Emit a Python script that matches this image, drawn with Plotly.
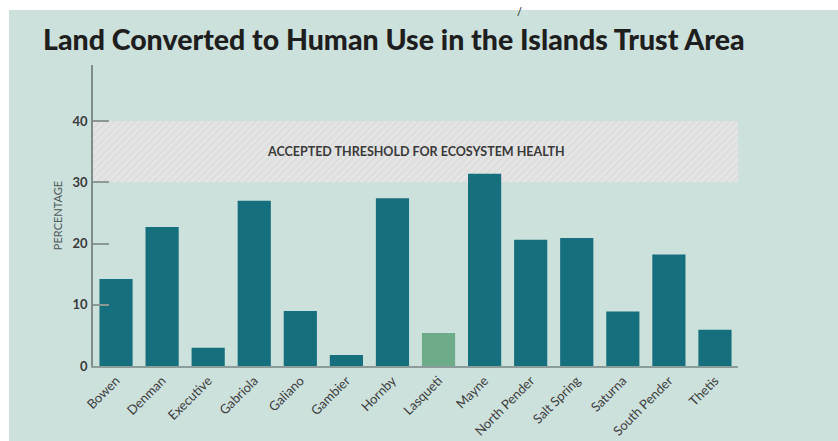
import plotly.graph_objects as go

islands = ["Bowen", "Denman", "Executive", "Gabriola", "Galiano", "Gambier", "Hornby",
           "Lasqueti", "Mayne", "North Pender", "Salt Spring", "Saturna", "South Pender", "Thetis"]
percent = [14.2, 22.7, 3.0, 27.0, 9.0, 1.8, 27.4, 5.4, 31.4, 20.6, 20.9, 8.9, 18.2, 5.9]
highlight = ["Lasqueti"]
threshold_low = 30
threshold_high = 40
threshold_label = "ACCEPTED THRESHOLD FOR ECOSYSTEM HEALTH"
y_ticks = [0, 10, 20, 30, 40]
title = "Land Converted to Human Use in the Islands Trust Area"

TEAL = "#156f7c"
GREEN = "#6eab88"
BG = "#cce0dc"
FONT = "Lato, Open Sans, sans-serif"

idx = list(range(len(islands)))
x_lo, x_hi = -0.5, len(islands) - 0.5
colors = [GREEN if n in highlight else TEAL for n in islands]

fig = go.Figure()

# threshold band (hatched), drawn as a wide bar behind the island bars
fig.add_trace(go.Bar(
    x=[(x_lo + x_hi) / 2], y=[threshold_high - threshold_low], base=[threshold_low],
    width=[x_hi - x_lo],
    marker=dict(color="#e3e4e3", line=dict(width=0),
                pattern=dict(shape="/", bgcolor="#e3e4e3", fgcolor="#cdcfce",
                             size=5, solidity=0.25)),
    hoverinfo="skip", showlegend=False,
))

fig.add_trace(go.Bar(
    x=idx, y=percent, width=0.72, marker=dict(color=colors, line=dict(width=0)),
    showlegend=False,
))

fig.add_annotation(
    x=(x_lo + x_hi) / 2, y=(threshold_low + threshold_high) / 2,
    text=threshold_label, showarrow=False,
    font=dict(family=FONT, size=12.5, color="#3a3a3a", weight="bold"),
)

# photo-edge white strips and stray mark
fig.add_shape(type="rect", xref="paper", yref="paper",
              x0=-0.1442, x1=1.16, y0=1.1827, y1=1.23,
              fillcolor="white", line=dict(width=0), layer="above")
fig.add_shape(type="rect", xref="paper", yref="paper",
              x0=-0.1442, x1=-0.1302, y0=-0.26, y1=1.23,
              fillcolor="white", line=dict(width=0), layer="above")
fig.add_annotation(xref="paper", yref="paper", x=0.662, y=1.206, text="/",
                   showarrow=False, font=dict(family=FONT, size=11, color="#111"))

fig.update_layout(
    width=838, height=441,
    margin=dict(l=93, r=100, t=65, b=75, autoexpand=False),
    paper_bgcolor=BG, plot_bgcolor=BG,
    barmode="overlay",
    title=dict(text=title, x=43 / 838, xanchor="left", xref="container",
               y=1 - 40 / 441, yanchor="middle", yref="container",
               font=dict(family=FONT, size=28.5, color="#1e1e1e", weight=900)),
    xaxis=dict(range=[x_lo, x_hi], tickvals=idx, ticktext=islands, tickangle=-45,
               showline=True, linecolor="#8c9c9a", linewidth=2, ticks="",
               showgrid=False, zeroline=False, automargin=False,
               tickfont=dict(family=FONT, size=13, color="#3d3d3d")),
    yaxis=dict(range=[0, 49.15], tickvals=y_ticks, ticks="inside", ticklen=16,
               tickcolor="#8c9896", tickwidth=1.5,
               showline=True, linecolor="#7f8c8a", linewidth=1.5,
               showgrid=False, zeroline=False, ticklabelstandoff=1, automargin=False,
               tickfont=dict(family=FONT, size=13, color="#3a3a3a", weight="bold"),
               title=dict(text="PERCENTAGE", standoff=8,
                          font=dict(family=FONT, size=11, color="#4d5a58"))),
)

fig.write_html("out.html")
